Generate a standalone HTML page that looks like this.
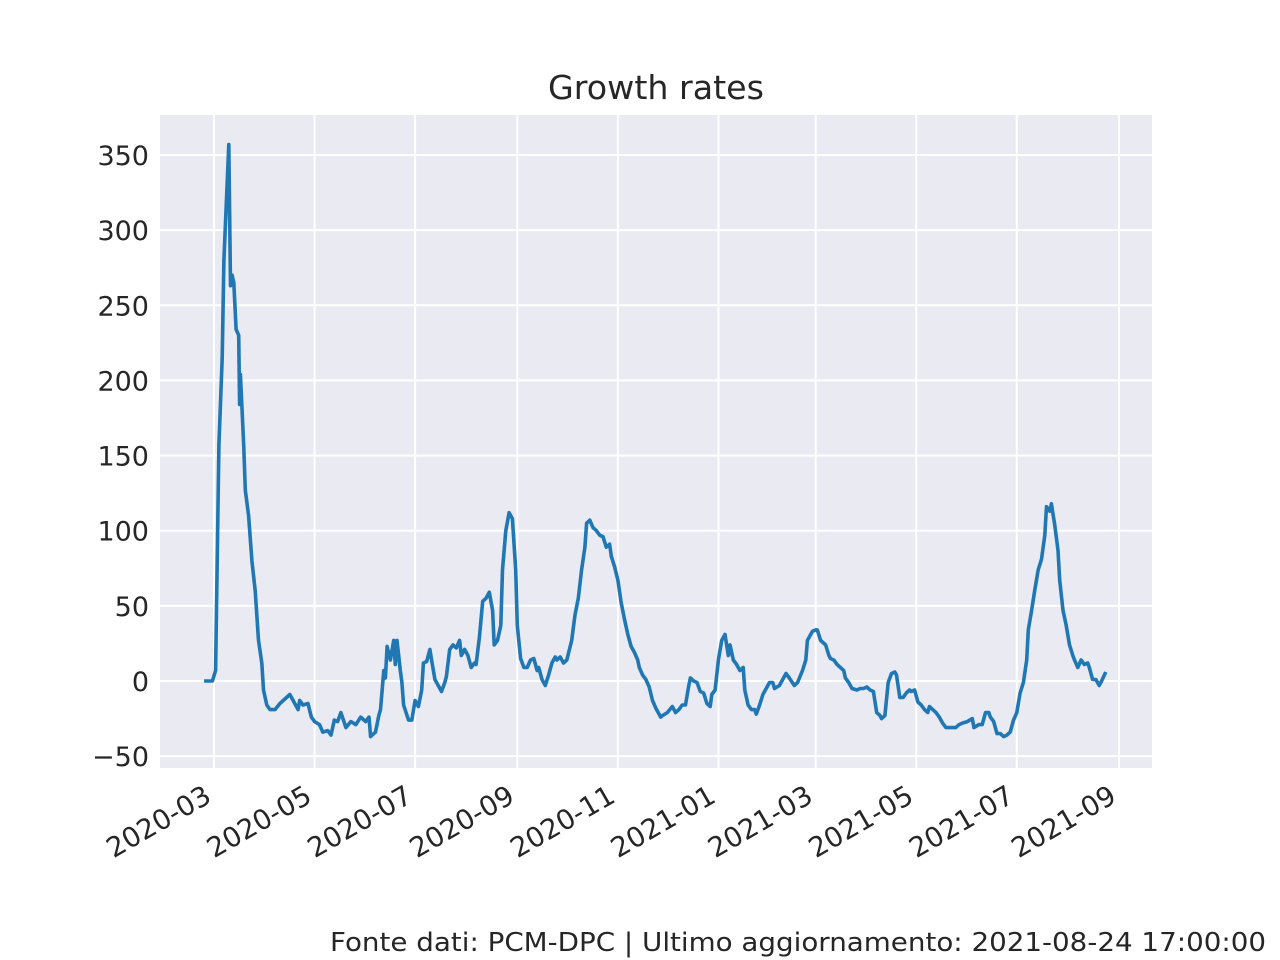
<!DOCTYPE html>
<html><head><meta charset="utf-8"><style>
body{margin:0;background:#fff;}
svg{display:block;font-family:"DejaVu Sans","Liberation Sans",sans-serif;}
</style></head><body>
<svg id="chart" width="1280" height="960" xmlns="http://www.w3.org/2000/svg">
<rect x="160" y="115" width="992" height="653" fill="#eaeaf2"/>
<g id="grid"></g>
<g id="ticks"></g>
<path id="line" fill="none" stroke="#1f77b4" stroke-width="3.6" stroke-linejoin="round"/>
<text x="656" y="99" text-anchor="middle" font-size="33" fill="#262626" textLength="216" lengthAdjust="spacingAndGlyphs">Growth rates</text>
<text x="330" y="951" font-size="26" fill="#262626" textLength="936" lengthAdjust="spacingAndGlyphs">Fonte dati: PCM-DPC | Ultimo aggiornamento: 2021-08-24 17:00:00</text>
</svg>
<script>
const startDate = "2020-02-24";
const days = [0,5,7,9,11,12,15,16,17,18,19.4,21,21.5,22,24,25,27,29,31,33,35,36,38,40,43,46,50,52,53,56,57,58,60,63,65,67,70,72,75,77,79,81,83,86,89,92,95,98,100,101,104,106,107,109,110,111,113,115,116,117,119,120,121,124,126,128,130,132,133,135,137,138,140,142,144,146,147,149,151,153,155,156,158,160,162,164,165,167,169,171,173,175,176,178,180,181,183,185,187,189,190,192,194,196,198,200,202,203,205,207,209,211,213,214,216,218,220,223,225,227,229,231,232,234,236,238,240,242,244,246,247,249,251,253,255,257,259,261,263,264,266,268,270,272,274,277,278,281,284,286,288,290,292,294,295,297,299,301,303,305,307,308,310,312,314,316,318,319,321,323,325,327,328,330,332,334,335,337,339,341,343,345,346,349,351,353,355,358,360,363,365,366,369,371,372,374,377,379,380,382,384,386,388,389,391,393,396,398,400,402,404,406,408,410,411,413,415,417,419,420,422,424,426,428,429,431,433,435,437,439,440,442,444,446,448,450,453,456,458,460,463,466,467,470,472,474,476,477,479,481,483,485,487,489,491,493,495,497,499,500,502,504,506,508,510,511,513,514,516,518,519,521,523,525,527,528,530,532,534,536,537,539,541,543,544,547];
const values = [0,0,7,157,215,280,357,263,270,265,234,230,184,204,157,127,110,80,60,27,12,-6,-16,-19,-19,-15,-11,-9,-11,-17,-19,-13,-16,-15,-24,-27,-29,-34,-33,-36,-26,-27,-21,-31,-27,-29,-24,-27,-24,-37,-34,-23,-19,7,2,23,14,27,11,27,7,-1,-16,-26,-26,-13,-17,-6,12,13,21,14,1,-3,-7,-1,3,21,24,22,27,17,21,17,9,12,11,29,53,55,59,47,24,27,37,74,100,112,108,74,37,15,9,9,14,15,7,9,1,-3,4,12,16,14,16,12,14,27,44,55,74,89,105,107,102,100,97,96,89,91,83,76,67,52,41,31,23,19,14,9,4,1,-4,-13,-18,-24,-23,-21,-17,-21,-19,-16,-16,-3,2,0,-1,-7,-8,-15,-17,-9,-6,14,27,31,17,24,14,11,7,9,-6,-16,-19,-19,-22,-16,-9,-5,-1,-1,-5,-3,1,5,2,-3,-1,7,14,27,33,34,34,27,24,17,15,14,11,9,7,2,-1,-5,-6,-5,-5,-4,-6,-7,-21,-23,-25,-23,-1,5,6,4,-11,-11,-8,-6,-7,-6,-14,-16,-19,-21,-17,-19,-21,-24,-28,-31,-31,-31,-29,-28,-27,-25,-31,-29,-29,-21,-21,-24,-27,-35,-35,-37,-36,-34,-26,-21,-8,-1,14,34,47,61,74,81,97,116,113,118,104,87,67,47,37,24,17,14,9,14,11,12,9,1,1,-3,-1,6];
const yTicks = [-50,0,50,100,150,200,250,300,350];
const xTickLabels = ["2020-03","2020-05","2020-07","2020-09","2020-11","2021-01","2021-03","2021-05","2021-07","2021-09"];

const NS="http://www.w3.org/2000/svg";
const DAY=86400000;
const t0=Date.parse(startDate+"T00:00:00Z");
const refA=Date.parse("2020-03-01T00:00:00Z"), refB=Date.parse("2021-09-01T00:00:00Z");
function xOfTime(t){return 214+(t-refA)/(refB-refA)*(1119-214);}
function xOfDay(d){return xOfTime(t0+d*DAY);}
function yOf(v){return 681-v*(681-155)/350;}
const grid=document.getElementById('grid'), ticks=document.getElementById('ticks');
function mk(tag,attrs,parent){const e=document.createElementNS(NS,tag);for(const k in attrs)e.setAttribute(k,attrs[k]);parent.appendChild(e);return e;}
yTicks.forEach(v=>{
  const y=yOf(v);
  const l=mk('line',{x1:160,x2:1152,y1:y,y2:y,stroke:'#fff','stroke-width':2},grid);
  
  
  const t=mk('text',{x:149,y:y+10,'text-anchor':'end','font-size':27,fill:'#262626'},ticks);
  
  
  t.textContent=v<0?'\u2212'+Math.abs(v):String(v);
});
xTickLabels.forEach(s=>{
  const x=xOfTime(Date.parse(s+"-01T00:00:00Z"));
  const l=mk('line',{x1:x,x2:x,y1:115,y2:768,stroke:'#fff','stroke-width':2},grid);
  
  
  const t=mk('text',{x:0,y:0,'text-anchor':'end','font-size':27.5,fill:'#262626',transform:`translate(${x-1},${801}) rotate(-30)`},ticks);
  
  
  t.textContent=s;
});
let d='';
days.forEach((dd,i)=>{d+=(i?'L':'M')+xOfDay(dd).toFixed(1)+','+yOf(values[i]).toFixed(1);});
document.getElementById('line').setAttribute('d',d);
</script>
</body></html>
